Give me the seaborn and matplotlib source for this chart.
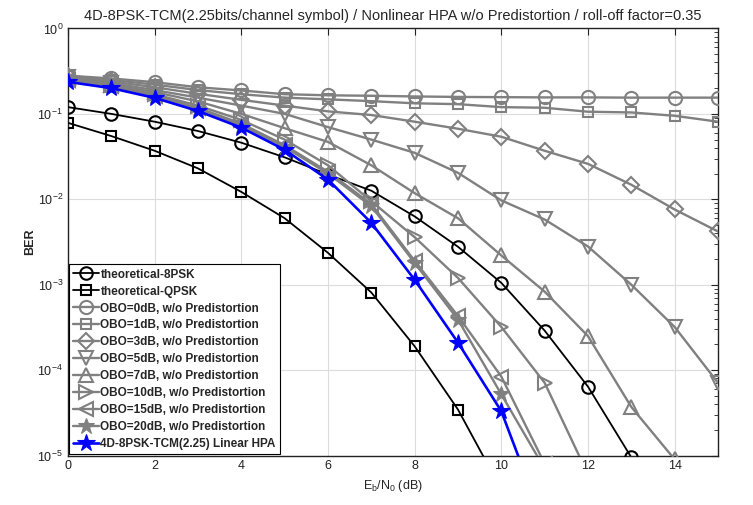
import matplotlib
matplotlib.use("Agg")
import matplotlib.pyplot as plt
import matplotlib.ticker as mticker
import seaborn as sns
import numpy as np

# Eb/N0 axis (dB)
ebn0 = list(range(16))

theo_8psk = [0.12, 0.10, 0.081, 0.063, 0.046, 0.031, 0.0195, 0.0126, 0.0063, 0.00278,
             0.00105, 2.9e-4, 6.4e-5, 9.5e-6]
theo_qpsk = [0.0785, 0.055, 0.037, 0.023, 0.0122, 0.006, 0.00236, 8.1e-4, 1.9e-4, 3.45e-5, 4e-6]
obo0 = [0.28, 0.26, 0.235, 0.205, 0.188, 0.17, 0.165, 0.163, 0.16, 0.158, 0.157, 0.156,
        0.156, 0.155, 0.155, 0.155]
obo1 = [0.28, 0.25, 0.22, 0.19, 0.17, 0.155, 0.148, 0.141, 0.133, 0.13, 0.12, 0.118,
        0.106, 0.104, 0.095, 0.081]
obo3 = [0.275, 0.24, 0.205, 0.172, 0.146, 0.125, 0.107, 0.097, 0.081, 0.067, 0.054, 0.037,
        0.026, 0.0148, 0.0076, 0.0042]
obo5 = [0.27, 0.23, 0.19, 0.155, 0.125, 0.1, 0.07, 0.05, 0.035, 0.0204, 0.0097, 0.0058,
        0.0028, 0.001, 3.2e-4, 7.1e-5]
obo7 = [0.265, 0.22, 0.18, 0.14, 0.1, 0.068, 0.047, 0.025, 0.0118, 0.006, 0.0022, 8.3e-4,
        2.5e-4, 3.7e-5, 9e-6]
obo10 = [0.26, 0.215, 0.17, 0.125, 0.085, 0.05, 0.025, 0.0095, 0.0036, 0.0012, 3.2e-4,
         7.1e-5, 6e-6]
obo15 = [0.25, 0.21, 0.163, 0.118, 0.077, 0.043, 0.021, 0.0088, 0.0019, 4.3e-4, 8.4e-5, 8e-6]
obo20 = [0.245, 0.205, 0.16, 0.113, 0.073, 0.041, 0.02, 0.0083, 0.0018, 3.9e-4, 5.2e-5, 7e-6]
tcm = [0.237, 0.2, 0.154, 0.108, 0.069, 0.038, 0.017, 0.0053, 0.00114, 2.1e-4, 3.3e-5, 1.5e-6]

sns.set_style("white")
plt.rcParams["font.family"] = ["Liberation Sans", "DejaVu Sans"]
plt.rcParams["mathtext.fontset"] = "custom"
plt.rcParams["mathtext.rm"] = "Liberation Sans"

fig = plt.figure(figsize=(7.53, 5.05), dpi=100)
ax = fig.add_axes([0.0903, 0.098, 0.8632, 0.8456])

gray = "#808080"
series = [
    (theo_8psk, "theoretical-8PSK", "k", "o", 9, 1.3, "none"),
    (theo_qpsk, "theoretical-QPSK", "k", "s", 7, 1.3, "none"),
    (obo0, "OBO=0dB, w/o Predistortion", gray, "o", 9.5, 1.7, "none"),
    (obo1, "OBO=1dB, w/o Predistortion", gray, "s", 7, 1.7, "none"),
    (obo3, "OBO=3dB, w/o Predistortion", gray, "D", 8, 1.7, "none"),
    (obo5, "OBO=5dB, w/o Predistortion", gray, "v", 9.5, 1.7, "none"),
    (obo7, "OBO=7dB, w/o Predistortion", gray, "^", 9.5, 1.7, "none"),
    (obo10, "OBO=10dB, w/o Predistortion", gray, ">", 9.5, 1.7, "none"),
    (obo15, "OBO=15dB, w/o Predistortion", gray, "<", 9.5, 1.7, "none"),
    (obo20, "OBO=20dB, w/o Predistortion", gray, "*", 12, 1.7, gray),
    (tcm, "4D-8PSK-TCM(2.25) Linear HPA", "#0000ff", "*", 13, 1.9, "#0000ff"),
]

for i, (vals, lab, col, mk, ms, lw, fc) in enumerate(series):
    sns.lineplot(x=ebn0[:len(vals)], y=vals, ax=ax, color=col, marker=mk, markersize=ms,
                 markerfacecolor=fc, markeredgecolor=col,
                 markeredgewidth=1.5 if fc == "none" else 0.8,
                 linewidth=lw, label=lab, zorder=3 + i)

ax.set_yscale("log")
ax.set_xlim(0, 15)
ax.set_ylim(1e-5, 1)
ax.set_xticks(range(0, 16, 2))
ax.yaxis.set_major_locator(mticker.LogLocator(base=10, numticks=10))
ax.yaxis.set_minor_locator(mticker.LogLocator(base=10, subs=np.arange(2, 10), numticks=20))
ax.yaxis.set_minor_formatter(mticker.NullFormatter())
ax.grid(True, which="major", color="#dcdcdc", linewidth=0.8)
ax.tick_params(which="both", direction="in", top=True, right=True, labelsize=9, colors="#222222")
ax.tick_params(which="major", length=5)
ax.tick_params(which="minor", length=3)
for s in ax.spines.values():
    s.set_color("#222222")
    s.set_linewidth(1.0)

ax.set_title("4D-8PSK-TCM(2.25bits/channel symbol) / Nonlinear HPA w/o Predistortion / roll-off factor=0.35",
             fontsize=10.5, pad=6)
ax.set_xlabel(r"E$_\mathrm{b}$/N$_0$ (dB)", fontsize=9, labelpad=4)
ax.set_ylabel("BER", fontsize=9, fontweight="bold", labelpad=1)

leg = ax.legend(loc="lower left", prop={"weight": "bold", "size": 8.5},
                frameon=True, fancybox=False, edgecolor="black", framealpha=1,
                borderaxespad=0.1, handlelength=2.2, handletextpad=0.1, labelspacing=0.42,
                borderpad=0.35)
leg.get_frame().set_linewidth(0.8)

fig.savefig("out.png", dpi=100)
